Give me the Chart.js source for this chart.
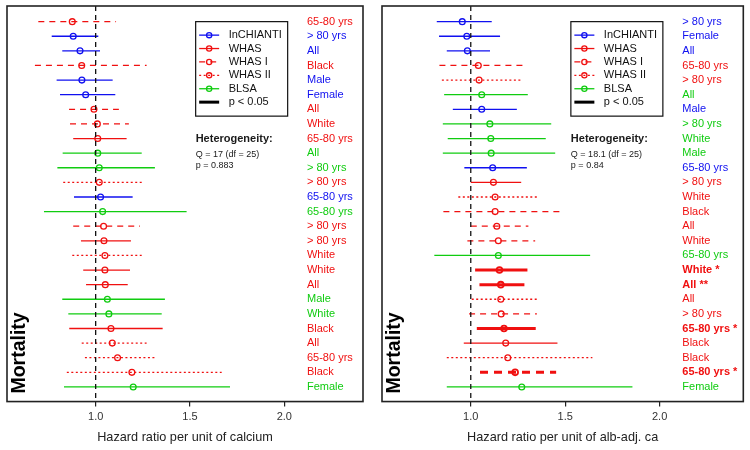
<!DOCTYPE html>
<html>
<head>
<meta charset="utf-8">
<script src="https://cdn.jsdelivr.net/npm/chart.js@4.4.1/dist/chart.umd.min.js"></script>
<style>
  body { margin: 0; background: #fff; }
  .panel { position: absolute; top: 0; width: 375px; height: 450px; }
</style>
</head>
<body>
<div class="panel" style="left:0"><canvas id="calChart"></canvas></div>
<div class="panel" style="left:375px"><canvas id="albChart"></canvas></div>
<script>
// --- data: calcium panel (rows top to bottom) ---
const calLabels = ['65-80 yrs', '> 80 yrs', 'All', 'Black', 'Male', 'Female', 'All', 'White', '65-80 yrs',
    'All', '> 80 yrs', '> 80 yrs', '65-80 yrs', '65-80 yrs', '> 80 yrs', '> 80 yrs', 'White', 'White', 'All',
    'Male', 'White', 'Black', 'All', '65-80 yrs', 'Black', 'Female'];
const calStudy = ['WHAS I', 'InCHIANTI', 'InCHIANTI', 'WHAS I', 'InCHIANTI', 'InCHIANTI', 'WHAS I', 'WHAS I', 'WHAS',
    'BLSA', 'BLSA', 'WHAS II', 'InCHIANTI', 'BLSA', 'WHAS I', 'WHAS', 'WHAS II', 'WHAS', 'WHAS',
    'BLSA', 'BLSA', 'WHAS', 'WHAS II', 'WHAS II', 'WHAS II', 'BLSA'];
const calEst = [0.876, 0.881, 0.917, 0.926, 0.927, 0.947, 0.991, 1.009, 1.011,
    1.011, 1.019, 1.019, 1.026, 1.037, 1.042, 1.044, 1.049, 1.049, 1.051,
    1.062, 1.070, 1.081, 1.088, 1.116, 1.192, 1.199];
const calLo = [0.696, 0.767, 0.823, 0.678, 0.793, 0.811, 0.859, 0.864, 0.881,
    0.825, 0.797, 0.828, 0.885, 0.726, 0.881, 0.922, 0.876, 0.934, 0.949,
    0.823, 0.855, 0.860, 0.926, 0.943, 0.847, 0.832];
const calHi = [1.108, 1.014, 1.023, 1.270, 1.090, 1.104, 1.123, 1.176, 1.164,
    1.244, 1.314, 1.249, 1.196, 1.482, 1.235, 1.187, 1.244, 1.182, 1.170,
    1.367, 1.350, 1.355, 1.270, 1.314, 1.668, 1.712];
const calSig = new Array(26).fill(false);
const calHet = ['Q = 17 (df = 25)', 'p = 0.883'];

// --- data: albumin-adjusted calcium panel ---
const albLabels = ['> 80 yrs', 'Female', 'All', '65-80 yrs', '> 80 yrs', 'All', 'Male', '> 80 yrs', 'White',
    'Male', '65-80 yrs', '> 80 yrs', 'White', 'Black', 'All', 'White', '65-80 yrs', 'White *', 'All **',
    'All', '> 80 yrs', '65-80 yrs *', 'Black', 'Black', '65-80 yrs *', 'Female'];
const albStudy = ['InCHIANTI', 'InCHIANTI', 'InCHIANTI', 'WHAS I', 'WHAS II', 'BLSA', 'InCHIANTI', 'BLSA', 'BLSA',
    'BLSA', 'InCHIANTI', 'WHAS', 'WHAS II', 'WHAS I', 'WHAS I', 'WHAS I', 'BLSA', 'WHAS', 'WHAS',
    'WHAS II', 'WHAS I', 'WHAS', 'WHAS', 'WHAS II', 'WHAS I', 'BLSA'];
const albEst = [0.955, 0.979, 0.982, 1.040, 1.044, 1.058, 1.058, 1.101, 1.106,
    1.108, 1.116, 1.120, 1.129, 1.129, 1.138, 1.146, 1.146, 1.152, 1.159,
    1.159, 1.161, 1.176, 1.185, 1.196, 1.235, 1.270];
const albLo = [0.820, 0.832, 0.873, 0.834, 0.847, 0.859, 0.905, 0.852, 0.878,
    0.852, 0.966, 1.000, 0.934, 0.855, 1.000, 0.982, 0.807, 1.023, 1.046,
    1.005, 0.991, 1.032, 0.963, 0.873, 1.049, 0.873];
const albHi = [1.111, 1.155, 1.102, 1.291, 1.265, 1.302, 1.244, 1.426, 1.397,
    1.447, 1.297, 1.267, 1.358, 1.494, 1.305, 1.341, 1.632, 1.300, 1.284,
    1.358, 1.350, 1.344, 1.459, 1.644, 1.452, 1.856];
const albSig = [false, false, false, false, false, false, false, false, false,
    false, false, false, false, false, false, false, false, true, true,
    false, false, true, false, false, true, false];
const albHet = ['Q = 18.1 (df = 25)', 'p = 0.84'];

const xTicks = [1.0, 1.5, 2.0];
const legendNames = ['InCHIANTI', 'WHAS', 'WHAS I', 'WHAS II', 'BLSA'];

const BLUE = '#1010f0';
const RED = '#f01010';
const GREEN = '#10cc10';
const studyStyle = {
    'InCHIANTI': { color: BLUE, dash: [] },
    'WHAS': { color: RED, dash: [] },
    'WHAS I': { color: RED, dash: [6, 5] },
    'WHAS II': { color: RED, dash: [2, 2.5] },
    'BLSA': { color: GREEN, dash: [] }
};

Chart.defaults.font.family = 'Arial, "Liberation Sans", sans-serif';

function buildDatasets(est, lo, hi, study, sig) {
    const sets = [];
    // reference line at HR = 1
    sets.push({
        data: [{ x: 1, y: -0.07 }, { x: 1, y: 27 }],
        showLine: true, borderColor: '#111', borderWidth: 1.3,
        borderDash: [5, 4], pointRadius: 0
    });
    est.forEach((v, i) => {
        const st = studyStyle[study[i]];
        let dash = st.dash;
        if (sig[i] && dash.length) dash = [8, 6];
        sets.push({
            data: [{ x: lo[i], y: i + 1 }, { x: hi[i], y: i + 1 }],
            showLine: true, borderColor: st.color,
            borderWidth: sig[i] ? 3 : 1.3, borderDash: dash, pointRadius: 0
        });
    });
    sets.push({
        data: est.map((v, i) => ({ x: v, y: i + 1 })),
        showLine: false, pointRadius: 2.9,
        pointBorderWidth: sig.map(s => s ? 1.8 : 1.3),
        pointBorderColor: study.map(s => studyStyle[s].color),
        pointBackgroundColor: 'rgba(0,0,0,0)'
    });
    return sets;
}

// frame, row labels, legend, heterogeneity text, y title
const forestDecor = {
    id: 'forestDecor',
    afterDraw(chart, args, opts) {
        const ctx = chart.ctx;
        const area = chart.chartArea;
        const xs = chart.scales.x;
        const ys = chart.scales.y;
        ctx.save();

        // row labels
        ctx.textBaseline = 'middle';
        ctx.textAlign = 'left';
        opts.labels.forEach((lab, i) => {
            ctx.font = (opts.sig[i] ? 'bold ' : '') + '11px Arial, "Liberation Sans", sans-serif';
            ctx.fillStyle = studyStyle[opts.study[i]].color;
            ctx.fillText(lab, xs.getPixelForValue(2.12), ys.getPixelForValue(i + 1));
        });

        // legend box
        const bx = xs.getPixelForValue(1.53);
        const by = ys.getPixelForValue(1);
        ctx.strokeStyle = '#111';
        ctx.lineWidth = 1.2;
        ctx.strokeRect(bx, by, 92, 94.5);
        ctx.font = '11px Arial, "Liberation Sans", sans-serif';
        const rowsY = (k) => by + 13.5 + k * 13.4;
        legendNames.forEach((name, k) => {
            const st = studyStyle[name];
            const y = rowsY(k);
            ctx.strokeStyle = st.color;
            ctx.lineWidth = 1.3;
            ctx.setLineDash(st.dash);
            ctx.beginPath();
            ctx.moveTo(bx + 3.5, y);
            ctx.lineTo(bx + 23.5, y);
            ctx.stroke();
            ctx.setLineDash([]);
            ctx.beginPath();
            ctx.arc(bx + 13.5, y, 2.6, 0, Math.PI * 2);
            ctx.stroke();
            ctx.fillStyle = '#111';
            ctx.fillText(name, bx + 33, y);
        });
        const yp = rowsY(5);
        ctx.strokeStyle = '#000';
        ctx.lineWidth = 3;
        ctx.beginPath();
        ctx.moveTo(bx + 3.5, yp);
        ctx.lineTo(bx + 23.5, yp);
        ctx.stroke();
        ctx.fillStyle = '#111';
        ctx.fillText('p < 0.05', bx + 33, yp);

        // heterogeneity
        const hy = ys.getPixelForValue(9);
        ctx.fillStyle = '#1a1a1a';
        ctx.font = 'bold 11px Arial, "Liberation Sans", sans-serif';
        ctx.fillText('Heterogeneity:', bx, hy);
        ctx.font = '9px Arial, "Liberation Sans", sans-serif';
        ctx.fillText(opts.het[0], bx, hy + 15.5);
        ctx.fillText(opts.het[1], bx, hy + 26.5);

        // y title
        ctx.save();
        ctx.translate(area.left + 17.5, area.bottom - 8);
        ctx.rotate(-Math.PI / 2);
        ctx.textAlign = 'left';
        ctx.textBaseline = 'alphabetic';
        ctx.font = 'bold 19.5px Arial, "Liberation Sans", sans-serif';
        ctx.fillStyle = '#000';
        ctx.fillText('Mortality', 0, 0);
        ctx.restore();

        // frame
        ctx.strokeStyle = '#222';
        ctx.lineWidth = 1.6;
        ctx.strokeRect(area.left, area.top, area.right - area.left, area.bottom - area.top);
        ctx.restore();
    }
};

function makeChart(canvasId, cfg) {
    const ctx = document.getElementById(canvasId).getContext('2d');
    return new Chart(ctx, {
        type: 'scatter',
        data: { datasets: buildDatasets(cfg.est, cfg.lo, cfg.hi, cfg.study, cfg.sig) },
        options: {
            responsive: true,
            maintainAspectRatio: false,
            animation: false,
            events: [],
            layout: { padding: { left: 7, top: 6, right: cfg.padRight, bottom: 5 } },
            plugins: {
                legend: { display: false },
                tooltip: { enabled: false },
                forestDecor: { labels: cfg.labels, study: cfg.study, sig: cfg.sig, het: cfg.het }
            },
            scales: {
                x: {
                    type: 'linear',
                    min: 0.53,
                    max: cfg.xMax,
                    afterBuildTicks: (s) => { s.ticks = xTicks.map(v => ({ value: v })); },
                    ticks: {
                        callback: (v) => Number(v).toFixed(1),
                        color: '#333',
                        font: { size: 11 },
                        padding: 4,
                        maxRotation: 0
                    },
                    grid: { display: true, drawOnChartArea: false, tickLength: 5, color: '#222', lineWidth: 1.2 },
                    border: { display: false },
                    title: {
                        display: true,
                        text: cfg.xTitle,
                        color: '#222',
                        font: { size: 12.7 },
                        padding: { top: 2, bottom: 0 }
                    }
                },
                y: {
                    type: 'linear',
                    min: -0.07,
                    max: 27,
                    reverse: true,
                    display: false
                }
            }
        },
        plugins: [forestDecor]
    });
}

makeChart('calChart', {
    labels: calLabels, study: calStudy, est: calEst, lo: calLo, hi: calHi, sig: calSig, het: calHet,
    xTitle: 'Hazard ratio per unit of calcium', xMax: 2.417, padRight: 12
});
makeChart('albChart', {
    labels: albLabels, study: albStudy, est: albEst, lo: albLo, hi: albHi, sig: albSig, het: albHet,
    xTitle: 'Hazard ratio per unit of alb-adj. ca', xMax: 2.443, padRight: 6.7
});
</script>
</body>
</html>
